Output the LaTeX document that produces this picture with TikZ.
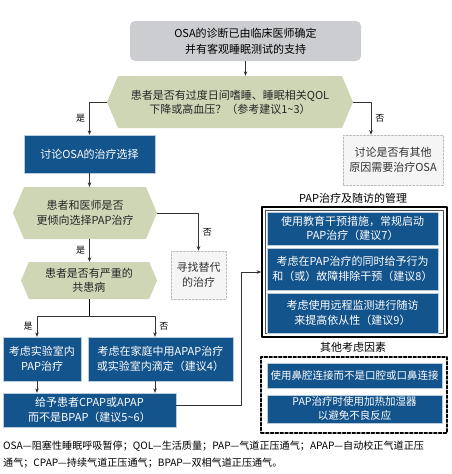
\documentclass[tikz,border=0pt]{standalone}
\usepackage{fontspec}
\setmainfont{Noto Sans CJK SC}
\usetikzlibrary{shapes.symbols,arrows.meta}

\begin{document}
\begin{tikzpicture}[x=1pt, y=-1pt, line cap=round, line join=round,
  font=\fontsize{11}{14.5}\selectfont,
  graybox/.style={fill=diaggray, rounded corners=5pt, align=center, inner sep=1pt},
  hexbox/.style={signal, signal to=west and east, signal pointer angle=134,
    fill=hexgreen, align=center, inner sep=1pt, text=black!85},
  bluebox/.style={fill=osablue, draw=white!70!osablue, line width=0.4pt,
    text=white, align=center, inner sep=1pt},
  dashbox/.style={draw=gray!55, fill=gray!8, dash pattern=on 2pt off 1.5pt,
    line width=0.6pt, align=center, text=black!80, inner sep=1pt},
  mgmtframe/.style={draw=black, line width=1.6pt},
  mgmtinner/.style={draw=black!70, line width=0.5pt},
  dashframe/.style={draw=black, line width=1.4pt, dash pattern=on 3pt off 1.8pt},
  arrow/.style={-{Stealth[length=4.5pt,width=3.6pt]}, draw=black!80, line width=0.6pt},
  yesno/.style={font=\fontsize{9}{9}\selectfont, inner sep=1pt}]
  \definecolor{osablue}{RGB}{20,84,140}
  \definecolor{hexgreen}{RGB}{206,214,182}
  \definecolor{diaggray}{RGB}{204,205,209}
  \useasboundingbox (0,0) rectangle (452,474);

  % main flow
  \node[graybox, minimum width=231pt, minimum height=40pt, font=\fontsize{11}{16}\selectfont] (diag) at (245.5,41)
    {OSA的诊断已由临床医师确定\\并有客观睡眠测试的支持};
  \node[hexbox, minimum width=246pt, minimum height=52pt, font=\fontsize{11}{14}\selectfont] (q1) at (230,102)
    {患者是否有过度日间嗜睡、睡眠相关QOL\\下降或高血压？（参考建议1\textasciitilde3）};
  \node[bluebox, minimum width=131pt, minimum height=38pt] (opt) at (89.5,154) {讨论OSA的治疗选择};
  \node[dashbox, minimum width=100pt, minimum height=50pt] (other) at (393,160)
    {讨论是否有其他\\原因需要治疗OSA};
  \node[hexbox, minimum width=144pt, minimum height=52pt] (q2) at (85,213)
    {患者和医师是否\\更倾向选择PAP治疗};
  \node[dashbox, minimum width=55pt, minimum height=48pt] (alt) at (198.5,275) {寻找替代\\的治疗};
  \node[hexbox, minimum width=136pt, minimum height=37pt, font=\fontsize{11}{14}\selectfont] (q3) at (89,280.5)
    {患者是否有严重的\\共患病};
  \node[bluebox, minimum width=78pt, minimum height=44pt] (lab) at (42,359) {考虑实验室内\\PAP治疗};
  \node[bluebox, minimum width=145pt, minimum height=44pt] (home) at (160.5,359)
    {考虑在家庭中用APAP治疗\\或实验室内滴定（建议4）};
  \node[bluebox, minimum width=173pt, minimum height=34pt, font=\fontsize{11}{15.5}\selectfont] (cpap) at (89.5,410)
    {给予患者CPAP或APAP\\而不是BPAP（建议5\textasciitilde6）};

  % PAP management
  \node (mtitle) at (353,198) {PAP治疗及随访的管理};
  \node[mgmtframe, minimum width=185pt, minimum height=130pt] (mgmt) at (354.5,272) {};
  \node[mgmtinner, minimum width=178pt, minimum height=123pt] (mgmtin) at (354.5,272) {};
  \node[bluebox, minimum width=171pt, minimum height=33pt] (r7) at (352.5,228.5)
    {使用教育干预措施，常规启动\\PAP治疗（建议7）};
  \node[bluebox, minimum width=171pt, minimum height=42pt] (r8) at (352.5,269)
    {考虑在PAP治疗的同时给予行为\\和（或）故障排除干预（建议8）};
  \node[bluebox, minimum width=171pt, minimum height=40pt] (r9) at (352.5,313)
    {考虑使用远程监测进行随访\\来提高依从性（建议9）};

  % other factors
  \node (otitle) at (353,347) {其他考虑因素};
  \node[dashframe, minimum width=186pt, minimum height=76pt] (extra) at (354,395) {};
  \node[bluebox, minimum width=175pt, minimum height=25pt, font=\fontsize{10.5}{14}\selectfont] (n1) at (354.5,375.5)
    {使用鼻腔连接而不是口腔或口鼻连接};
  \node[bluebox, minimum width=175pt, minimum height=28pt, font=\fontsize{10.5}{14}\selectfont] (n2) at (354.5,409)
    {PAP治疗时使用加热加湿器\\以避免不良反应};

  % connectors
  \draw[arrow] (diag.south) -- (diag.south |- q1.north);
  \draw[arrow] (q1.west) -| node[pos=0.75, left=3pt, yesno] {是} (opt.north);
  \draw[arrow] (q1.east) -| node[pos=0.75, right=3pt, yesno] {否} ([xshift=-22pt]other.north);
  \draw[arrow] (opt.south) -- (opt.south |- q2.north);
  \draw[arrow] (q2.east) -| node[pos=0.75, right=3pt, yesno] {否} (alt.north);
  \draw[arrow] (opt.south |- q2.south) -- node[left=3pt, yesno] {是} (opt.south |- q3.north);
  \draw (q3.south) -- ++(0,17) coordinate (split);
  \draw[arrow] (split) -| node[pos=0.75, left=3pt, yesno] {是} ([xshift=-5pt]lab.north);
  \draw[arrow] (split) -| node[pos=0.75, right=3pt, yesno] {否} ([xshift=-5.5pt]home.north);
  \draw[arrow] ([xshift=-5pt]lab.south) -- ([xshift=-5pt]lab.south |- cpap.north);
  \draw[arrow] ([xshift=-5.5pt]home.south) -- ([xshift=-5.5pt]home.south |- cpap.north);
  \draw[arrow] ([yshift=5pt]cpap.east) -| ([xshift=-20pt]mgmt.west) -- (mgmt.west);

  % footnote
  \node[anchor=west, inner sep=0pt, font=\fontsize{10.1}{12}\selectfont] (note1) at (3,446)
    {OSA—阻塞性睡眠呼吸暂停；QOL—生活质量；PAP—气道正压通气；APAP—自动校正气道正压};
  \node[anchor=west, inner sep=0pt, font=\fontsize{10.1}{12}\selectfont] (note2) at (3,463)
    {通气；CPAP—持续气道正压通气；BPAP—双相气道正压通气。};
\end{tikzpicture}
\end{document}
